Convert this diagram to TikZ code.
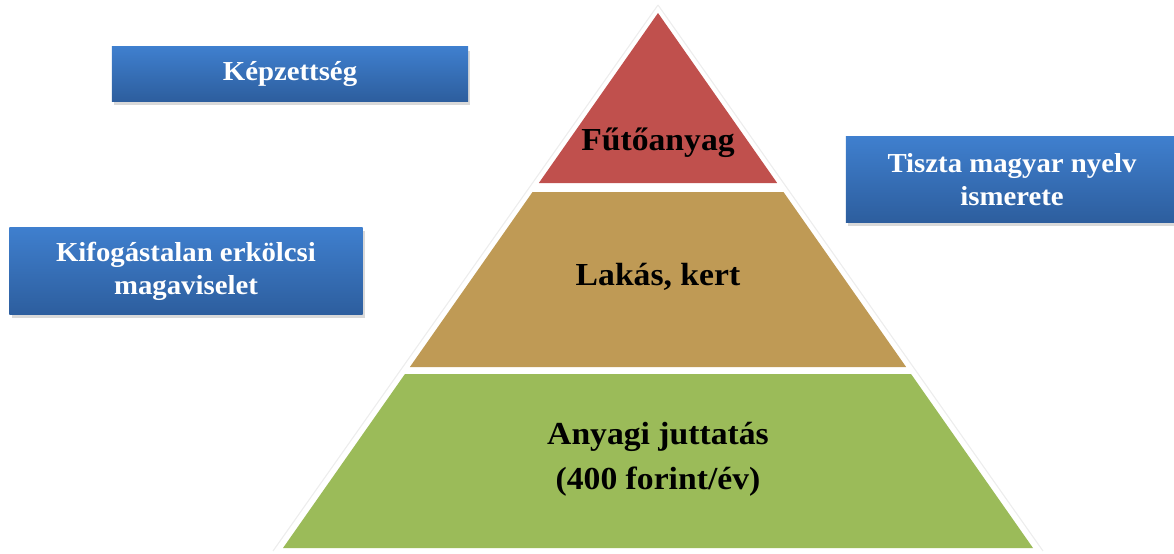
\documentclass[tikz,border=0pt]{standalone}
\usepackage{fontspec}
\setmainfont[FakeStretch=1.05]{Liberation Serif}
\usetikzlibrary{calc,shadows}
\definecolor{boxtop}{HTML}{3F7FCE}
\definecolor{boxbottom}{HTML}{2D5E9E}
\definecolor{layerred}{HTML}{C0504D}
\definecolor{layertan}{HTML}{BF9A55}
\definecolor{layergreen}{HTML}{9BBB59}
\begin{document}
\begin{tikzpicture}[x=0.025cm,y=-0.025cm,
  bluebox/.style={inner sep=0pt,align=center,text=white,top color=boxtop,bottom color=boxbottom,
    drop shadow={shadow xshift=1.5pt,shadow yshift=-2.5pt,opacity=0.3},
    font=\fontsize{19.5}{23.5}\selectfont\bfseries},
  layertext/.style={align=center,font=\fontsize{22.8}{32}\selectfont\bfseries}]
\useasboundingbox(0,0)rectangle(1174,553);
% pyramid
\coordinate(apex)at(658,13);\coordinate(bl)at(283,548);\coordinate(br)at(1033,548);
\draw[black!7,line width=0.8pt](658,5)--(273,551)(658,5)--(1043,551);
\fill[layerred](apex)--($(apex)!0.3178!(br)$)--($(apex)!0.3178!(bl)$)--cycle;
\fill[layertan]($(apex)!0.3346!(bl)$)--($(apex)!0.3346!(br)$)
  --($(apex)!0.6617!(br)$)--($(apex)!0.6617!(bl)$)--cycle;
\fill[layergreen]($(apex)!0.6748!(bl)$)--($(apex)!0.6748!(br)$)--(br)--(bl)--cycle;
\node[layertext](fuel)at(658,143){Fűtőanyag};
\node[layertext](home)at(658,277){Lakás, kert};
\node[layertext](pay)at(658,459){Anyagi juttatás\\(400 forint/év)};
% boxes
\node[bluebox,minimum width=8.9cm,minimum height=1.35cm](skill)at(290,74){Képzettség};
\node[bluebox,minimum width=8.825cm,minimum height=2.175cm](moral)at(186,271){Kifogástalan erkölcsi\\magaviselet};
\node[bluebox,minimum width=8.3cm,minimum height=2.125cm](lang)at(1012,179.5){Tiszta magyar nyelv\\ismerete};
\end{tikzpicture}
\end{document}
